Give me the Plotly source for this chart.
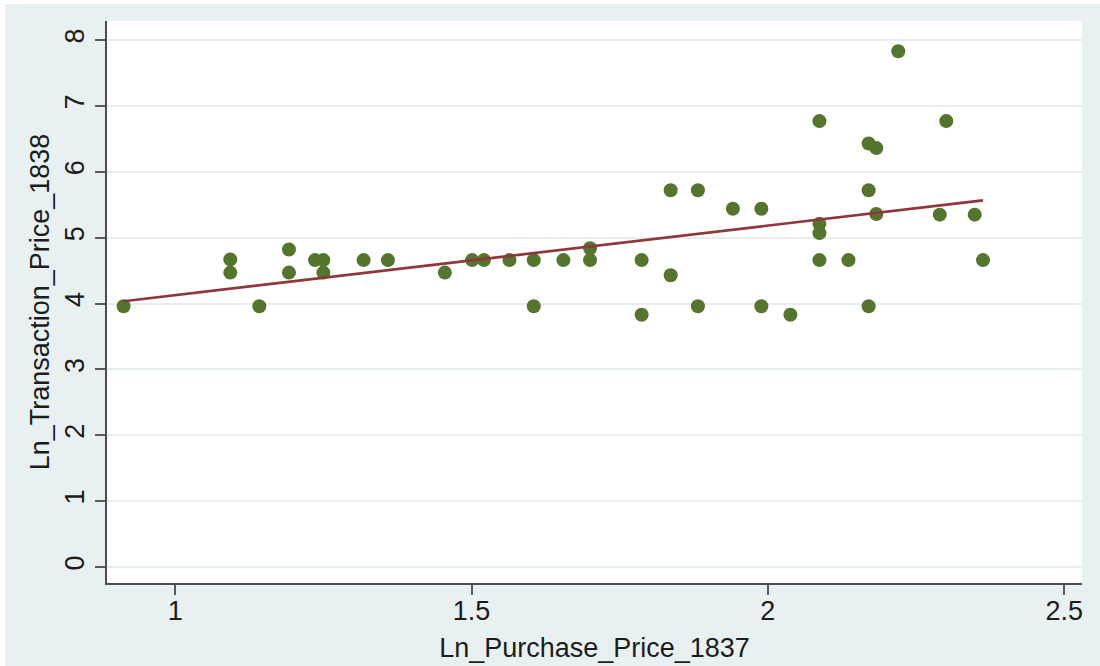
import numpy as np
import plotly.graph_objects as go

# Log prices: purchase price in 1837 vs. transaction price in 1838
ln_purchase_1837 = [0.913, 1.093, 1.093, 1.142, 1.192, 1.192, 1.236, 1.250, 1.250,
                    1.318, 1.359, 1.455, 1.501, 1.521, 1.564, 1.605, 1.605, 1.655,
                    1.700, 1.700, 1.787, 1.787, 1.836, 1.836, 1.882, 1.882, 1.941,
                    1.989, 1.989, 2.038, 2.087, 2.087, 2.087, 2.087, 2.136, 2.170,
                    2.183, 2.170, 2.170, 2.183, 2.220, 2.290, 2.301, 2.349, 2.363]
ln_transaction_1838 = [3.96, 4.67, 4.47, 3.96, 4.82, 4.47, 4.66, 4.66, 4.47,
                       4.66, 4.66, 4.47, 4.66, 4.66, 4.66, 4.66, 3.96, 4.66,
                       4.84, 4.66, 4.66, 3.83, 5.72, 4.43, 5.72, 3.96, 5.44,
                       5.44, 3.96, 3.83, 6.77, 5.21, 5.07, 4.66, 4.66, 6.43,
                       6.36, 5.72, 3.96, 5.36, 7.83, 5.35, 6.77, 5.35, 4.66]

x_ticks = [1, 1.5, 2, 2.5]
y_ticks = [0, 1, 2, 3, 4, 5, 6, 7, 8]
x_title = "Ln_Purchase_Price_1837"
y_title = "Ln_Transaction_Price_1838"

# Linear fit over the observed range
xa = np.array(ln_purchase_1837)
ya = np.array(ln_transaction_1838)
slope, intercept = np.polyfit(xa, ya, 1)
fit_x = np.array([xa.min(), xa.max()])
fit_y = intercept + slope * fit_x

BG = "#e8f0f2"
FONT = "Liberation Sans, Arial, Helvetica, sans-serif"
TXT = "#1c1c1c"

W, H = 1100, 666
ML, MR, MT, MB = 107, 18, 21, 83
pw, ph = W - ML - MR, H - MT - MB

fig = go.Figure()
fig.add_trace(go.Scatter(
    x=ln_purchase_1837, y=ln_transaction_1838, mode="markers",
    marker=dict(size=14, color="#55752f", line=dict(width=0)),
    showlegend=False, hoverinfo="x+y"))
fig.add_trace(go.Scatter(
    x=fit_x, y=fit_y, mode="lines",
    line=dict(color="#90353b", width=2.6),
    showlegend=False, hoverinfo="skip"))

# thin white border along the top and left edges of the page
fig.add_shape(type="rect", xref="paper", yref="paper",
              x0=-ML / pw, x1=(5 - ML) / pw, y0=-MB / ph, y1=1 + MT / ph,
              fillcolor="white", line=dict(width=0), layer="above")
fig.add_shape(type="rect", xref="paper", yref="paper",
              x0=-ML / pw, x1=1 + MR / pw, y0=1 + (MT - 4) / ph, y1=1 + MT / ph,
              fillcolor="white", line=dict(width=0), layer="above")

axis_common = dict(
    showline=True, linecolor="#4d4d4d", linewidth=2,
    ticks="outside", ticklen=10, tickwidth=1.5, tickcolor="#5a5a5a",
    tickfont=dict(family=FONT, size=27, color=TXT),
    zeroline=False, automargin=False,
)

fig.update_xaxes(
    range=[0.885, 2.53], tickvals=x_ticks, showgrid=False,
    ticklabelstandoff=-7,
    title=dict(text=x_title, font=dict(family=FONT, size=27, color=TXT), standoff=13),
    **axis_common)
fig.update_yaxes(
    range=[-0.243, 8.29], tickvals=y_ticks, tickangle=-90,
    showgrid=True, gridcolor="#e6eef0", gridwidth=1.5,
    ticklabelstandoff=0,
    title=dict(text=y_title, font=dict(family=FONT, size=27, color=TXT), standoff=3),
    **axis_common)

fig.update_layout(
    width=W, height=H,
    margin=dict(l=ML, r=MR, t=MT, b=MB),
    paper_bgcolor=BG, plot_bgcolor="white",
    font=dict(family=FONT, color=TXT),
)

fig.write_html("out.html")
